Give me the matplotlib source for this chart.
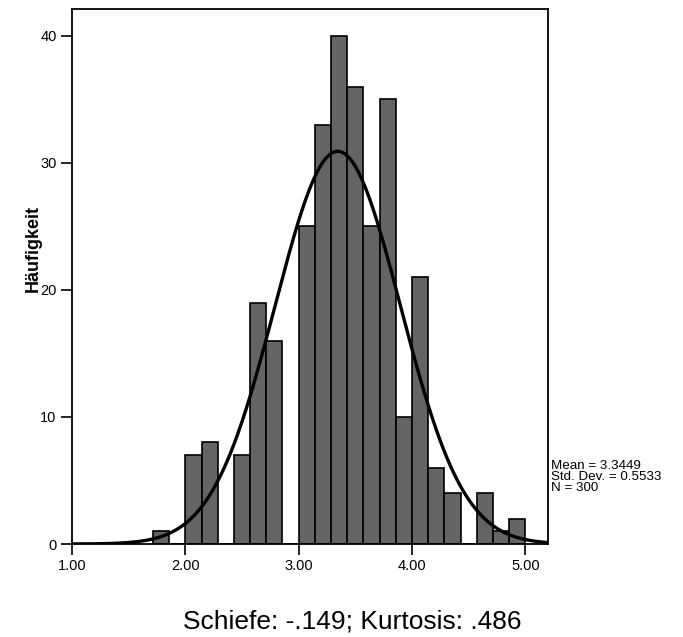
import numpy as np
import matplotlib
matplotlib.use("Agg")
import matplotlib.pyplot as plt

plt.rcParams['font.family'] = ['Liberation Sans', 'DejaVu Sans']

# Histogram data (bin width 1/7, starting at 1.714)
bin_start = 12 / 7
bin_width = 1 / 7
counts = [1, 0, 7, 8, 0, 7, 19, 16, 0, 25, 33, 40, 36, 25, 35, 10, 21, 6, 4, 0, 4, 1, 2]
mean = 3.3449
std_dev = 0.5533
n_total = 300
x_ticks = [1.0, 2.0, 3.0, 4.0, 5.0]
x_tick_labels = ["1.00", "2.00", "3.00", "4.00", "5.00"]
y_ticks = [0, 10, 20, 30, 40]
skew_text = "Schiefe: -.149; Kurtosis: .486"

fig = plt.figure(figsize=(6.83, 6.37), dpi=100)
ax = fig.add_axes([72 / 683, 1 - 544 / 637, 476 / 683, 535 / 637])

edges = bin_start + bin_width * np.arange(len(counts))
ax.bar(edges, counts, width=bin_width, align='edge', color='#646464',
       edgecolor='black', linewidth=1.2, zorder=2)

xs = np.linspace(1.0, 5.2, 400)
ys = n_total * bin_width / (std_dev * np.sqrt(2 * np.pi)) * np.exp(-0.5 * ((xs - mean) / std_dev) ** 2)
ax.plot(xs, ys, color='black', linewidth=2.4, zorder=3)

ax.set_xlim(1.0, 5.2)
ax.set_ylim(0, 42.1)
ax.set_xticks(x_ticks)
ax.set_xticklabels(x_tick_labels)
ax.set_yticks(y_ticks)
ax.tick_params(axis='x', direction='out', length=8, width=1.2, labelsize=10.5, pad=3)
ax.tick_params(axis='y', direction='out', length=8, width=1.2, labelsize=10.5, pad=3)
for s in ax.spines.values():
    s.set_linewidth(1.3)

fig.text(33 / 683, 1 - 248 / 637, "Häufigkeit", rotation=90, ha='center', va='center',
         fontsize=13, fontweight='bold')

ax.text(1.006, 0.125, f"Mean = {mean:.4f}\nStd. Dev. = {std_dev:.4f}\nN = {n_total}",
        transform=ax.transAxes, ha='left', va='center', fontsize=9.6, linespacing=0.92)

fig.text(352 / 683, 1 - 622 / 637, skew_text, ha='center', va='center', fontsize=19)

fig.savefig("out.png", dpi=100)
